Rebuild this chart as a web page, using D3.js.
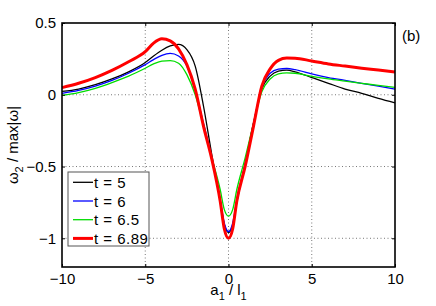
<!DOCTYPE html>
<html>
<head>
<meta charset="utf-8">
<script src="https://cdn.jsdelivr.net/npm/d3@7"></script>
<style>
  body { margin: 0; background: #fff; }
  svg { font-family: "Liberation Sans", Arial, sans-serif; }
</style>
</head>
<body>
<div id="chart"></div>
<script>
var xs = [-10, -9, -8, -7, -6, -5, -4.5, -4, -3.5, -3, -2.5, -2, -1.5, -1, -0.5, -0.25, 0,
	0.25, 0.5, 1, 1.5, 2, 2.5, 3, 3.5, 4, 5, 6, 7, 8, 9, 10];

var t5 = [0.023, 0.04, 0.07, 0.11, 0.16, 0.225, 0.27, 0.31, 0.34, 0.351, 0.315, 0.2, -0.08, -0.42, -0.74, -0.905, -0.96,
	-0.91, -0.75, -0.48, -0.2, 0.04, 0.13, 0.165, 0.172, 0.16, 0.12, 0.08, 0.04, 0.01, -0.025, -0.056];
var t6 = [0.01, 0.03, 0.06, 0.1, 0.15, 0.21, 0.245, 0.275, 0.288, 0.27, 0.2, 0.03, -0.2, -0.44, -0.73, -0.895, -0.953,
	-0.895, -0.73, -0.48, -0.2, 0.05, 0.15, 0.178, 0.183, 0.175, 0.145, 0.12, 0.1, 0.08, 0.06, 0.04];
var t65 = [-0.005, 0.015, 0.045, 0.085, 0.13, 0.185, 0.215, 0.235, 0.238, 0.22, 0.14, 0.0, -0.21, -0.44, -0.66, -0.8, -0.845,
	-0.8, -0.66, -0.44, -0.2, 0.02, 0.11, 0.145, 0.152, 0.15, 0.128, 0.11, 0.095, 0.08, 0.065, 0.051];
var t689 = [0.05, 0.08, 0.12, 0.17, 0.23, 0.30, 0.36, 0.39, 0.375, 0.32, 0.21, 0.04, -0.22, -0.45, -0.74, -0.935, -1.0,
	-0.935, -0.74, -0.5, -0.22, 0.06, 0.18, 0.24, 0.256, 0.255, 0.235, 0.215, 0.2, 0.185, 0.172, 0.158];

var seriesNames = ["t = 5", "t = 6", "t = 6.5", "t = 6.89"];
var seriesValues = [t5, t6, t65, t689];
var seriesColors = ["#000000", "#0000ff", "#00dd00", "#ff0000"];
var seriesWidths = [1.3, 1.3, 1.3, 3];

var xTicks = [-10, -5, 0, 5, 10];
var yTicks = [-1, -0.5, 0, 0.5];

var width = 436, height = 306;
var mLeft = 62, mRight = 395, mTop = 23, mBottom = 267;

var svg = d3.select("#chart").append("svg")
	.attr("width", width)
	.attr("height", height);

var x = d3.scaleLinear().domain([-10, 10]).range([mLeft, mRight]);
var y = d3.scaleLinear().domain([-1.2, 0.5]).range([mBottom, mTop]);

function fmt(d) {
	return String(d).replace("-", "\u2212");
}

// grid (dotted, interior only)
var grid = svg.append("g");
grid.selectAll(".gx")
	.data(xTicks.filter(function(d) { return d > -10 && d < 10; }))
	.enter().append("line")
	.attr("x1", function(d) { return x(d); })
	.attr("x2", function(d) { return x(d); })
	.attr("y1", mTop).attr("y2", mBottom)
	.attr("stroke", "#555").attr("stroke-width", 0.8)
	.attr("stroke-dasharray", "1,2.5");
grid.selectAll(".gy")
	.data(yTicks.filter(function(d) { return d < 0.5; }))
	.enter().append("line")
	.attr("y1", function(d) { return y(d); })
	.attr("y2", function(d) { return y(d); })
	.attr("x1", mLeft).attr("x2", mRight)
	.attr("stroke", "#555").attr("stroke-width", 0.8)
	.attr("stroke-dasharray", "1,2.5");

// curves
var line = d3.line()
	.x(function(d) { return x(d[0]); })
	.y(function(d) { return y(d[1]); })
	.curve(d3.curveMonotoneX);

seriesValues.forEach(function(vals, i) {
	svg.append("path")
		.datum(xs.map(function(v, j) { return [v, vals[j]]; }))
		.attr("d", line)
		.attr("fill", "none")
		.attr("stroke", seriesColors[i])
		.attr("stroke-width", seriesWidths[i])
		.attr("stroke-linejoin", "round");
});

// axes with inward ticks on all sides
svg.append("g")
	.attr("transform", "translate(0," + mBottom + ")")
	.call(d3.axisBottom(x).tickValues(xTicks).tickSizeInner(-3).tickSizeOuter(0).tickPadding(6).tickFormat(fmt));
svg.append("g")
	.attr("transform", "translate(0," + mTop + ")")
	.call(d3.axisTop(x).tickValues(xTicks).tickSizeInner(-3).tickSizeOuter(0).tickFormat(""));
svg.append("g")
	.attr("transform", "translate(" + mLeft + ",0)")
	.call(d3.axisLeft(y).tickValues(yTicks).tickSizeInner(-3).tickSizeOuter(0).tickPadding(6).tickFormat(fmt));
svg.append("g")
	.attr("transform", "translate(" + mRight + ",0)")
	.call(d3.axisRight(y).tickValues(yTicks).tickSizeInner(-3).tickSizeOuter(0).tickFormat(""));

svg.selectAll(".domain").remove();
svg.selectAll(".tick line").attr("stroke", "#000").attr("stroke-width", 1);
svg.selectAll(".tick text")
	.attr("fill", "#000")
	.style("font-size", "15px")
	.style("font-family", "'Liberation Sans', Arial, sans-serif");

svg.append("rect")
	.attr("x", mLeft).attr("y", mTop)
	.attr("width", mRight - mLeft).attr("height", mBottom - mTop)
	.attr("fill", "none").attr("stroke", "#000").attr("stroke-width", 1.6);

// axis labels
var xl = svg.append("text")
	.attr("x", x(0)).attr("y", 295)
	.attr("text-anchor", "middle")
	.style("font-size", "15px");
xl.append("tspan").text("a");
xl.append("tspan").attr("dy", 5).style("font-size", "11px").text("1");
xl.append("tspan").attr("dy", -5).text(" / l");
xl.append("tspan").attr("dy", 5).style("font-size", "11px").text("1");

var yl = svg.append("text")
	.attr("transform", "translate(18," + ((mTop + mBottom) / 2) + ") rotate(-90)")
	.attr("text-anchor", "middle")
	.style("font-size", "15px");
yl.append("tspan").text("\u03c9");
yl.append("tspan").attr("dy", 5).style("font-size", "11px").text("2");
yl.append("tspan").attr("dy", -5).text(" / max|\u03c9|");

svg.append("text")
	.attr("x", 402).attr("y", 41)
	.style("font-size", "15px")
	.text("(b)");

// legend
var lg = svg.append("g");
lg.append("rect")
	.attr("x", 68).attr("y", 172)
	.attr("width", 81).attr("height", 74)
	.attr("fill", "#fff").attr("stroke", "#555").attr("stroke-width", 1);
seriesNames.forEach(function(name, i) {
	var cy = 182.3 + i * 18.7;
	lg.append("line")
		.attr("x1", 73).attr("x2", 93)
		.attr("y1", cy).attr("y2", cy)
		.attr("stroke", seriesColors[i])
		.attr("stroke-width", seriesWidths[i]);
	lg.append("text")
		.attr("x", 94).attr("y", cy + 5.5)
		.style("font-size", "15px")
		.style("letter-spacing", "0.5px")
		.text(name);
});
</script>
</body>
</html>
